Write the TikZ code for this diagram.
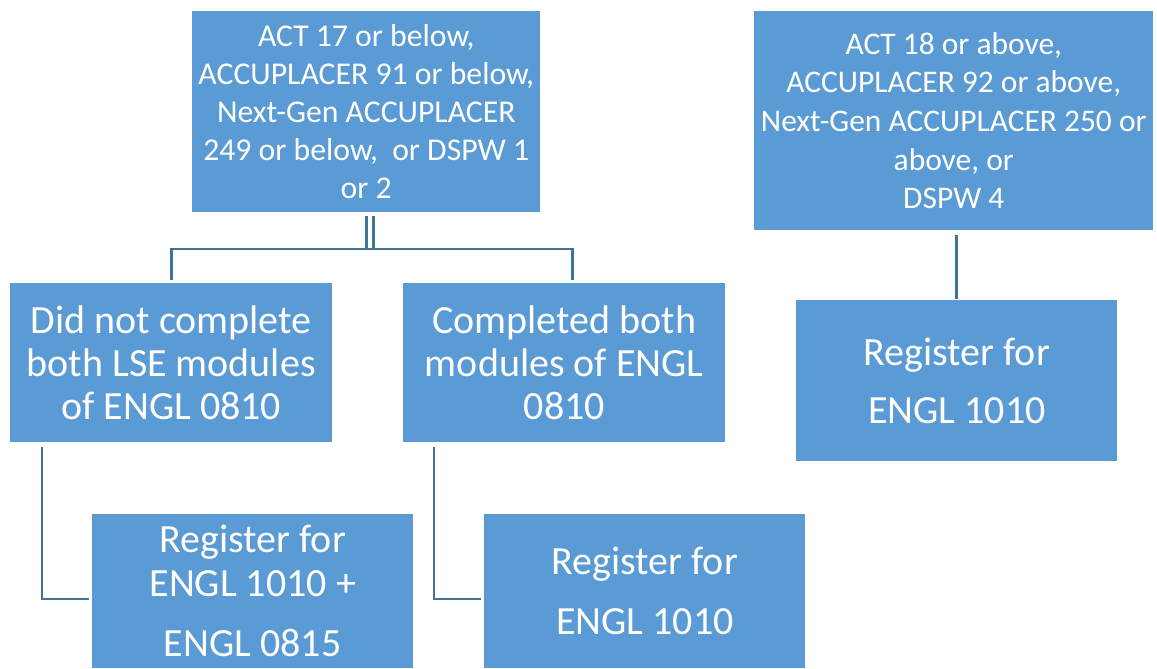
\documentclass[tikz,border=0pt]{standalone}
\usepackage{fontspec}
\setmainfont{Carlito}
\usetikzlibrary{calc}
\definecolor{boxblue}{HTML}{5B9BD5}
\definecolor{linkblue}{HTML}{41719C}
\begin{document}
\begin{tikzpicture}[x=0.75pt,y=-0.75pt,
  stepbox/.style={fill=boxblue, text=white, align=center, inner sep=0pt, anchor=north west},
  link/.style={draw=linkblue, line width=2.2pt}]

  \useasboundingbox (0,0) rectangle (1157,668);

  \node [stepbox, minimum width=261pt, minimum height=150.75pt, font=\fontsize{23.8}{28.5}\selectfont] (low) at (192,11)
    {ACT 17 or below,\\ACCUPLACER 91 or below,\\Next-Gen ACCUPLACER\\249 or below,~ or DSPW 1\\or 2};
  \node [stepbox, minimum width=299.25pt, minimum height=164.25pt, font=\fontsize{23.6}{29}\selectfont] (high) at (754,11)
    {ACT 18 or above,\\ACCUPLACER 92 or above,\\Next-Gen ACCUPLACER 250 or\\above, or\\DSPW 4};
  \node [stepbox, minimum width=241.5pt, minimum height=119.25pt, font=\fontsize{30}{32}\selectfont] (notdone) at (10,283)
    {Did not complete\\both LSE modules\\of ENGL 0810};
  \node [stepbox, minimum width=241.5pt, minimum height=119.25pt, font=\fontsize{30}{32}\selectfont] (done) at (403,283)
    {Completed both\\modules of ENGL\\0810};
  \node [stepbox, minimum width=240.75pt, minimum height=120.75pt, font=\fontsize{30}{43}\selectfont] (regright) at (796,300)
    {Register for\\ENGL 1010};
  \node [stepbox, minimum width=240.75pt, minimum height=115.5pt, font=\fontsize{30}{33}\selectfont] (regplus) at (92,514)
    {Register for\\ENGL 1010 +\\[12pt]ENGL 0815};
  \node [stepbox, minimum width=240.75pt, minimum height=115.5pt, font=\fontsize{30}{45}\selectfont] (regmid) at (484,514)
    {Register for\\ENGL 1010};

  \coordinate (fork) at (369,249);
  \draw [link] ($(low.south)+(0,3)$) -- ($(low.south)+(0,37)$);
  \draw [link] ($(low.south)+(7,3)$) -- ($(low.south)+(7,37)$);
  \draw [link] ($(notdone.north)+(0,-3)$) |- (fork) -| ($(done.north)+(8,-3)$);
  \draw [link] ($(notdone.south west)+(32,4)$) |- ($(regplus.north west)+(-3,85)$);
  \draw [link] ($(done.south west)+(31,4)$) |- ($(regmid.north west)+(-3,85)$);
  \draw [link] ($(high.south)+(3,4)$) -- ($(regright.north)+(0,-1)$);

\end{tikzpicture}
\end{document}
